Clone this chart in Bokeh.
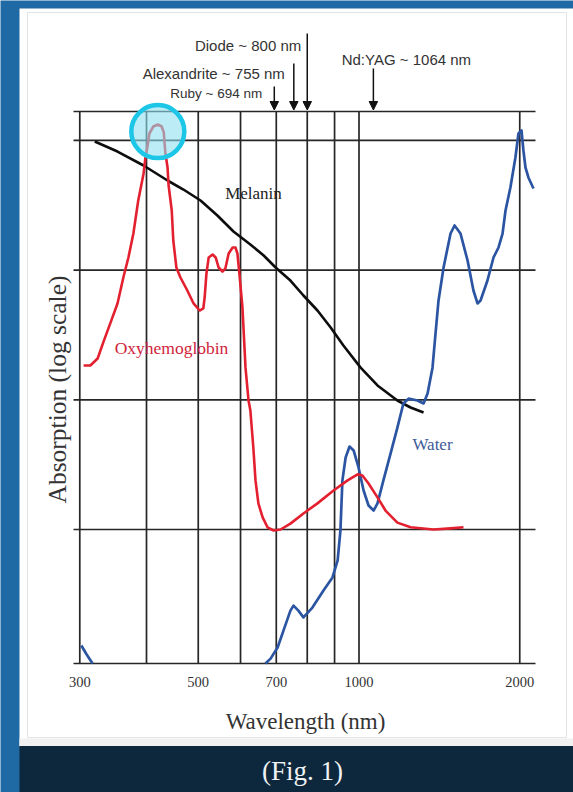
import math
from bokeh.plotting import figure
from bokeh.models import Range1d, LogScale, ColumnDataSource, Arrow, NormalHead
from bokeh.core.properties import value
from bokeh.embed import file_html
from bokeh.resources import INLINE

# ---------------- data (wavelength in nm, absorption in arbitrary log units) ----------------
GRID_NM = [300, 400, 500, 600, 700, 800, 900, 1000, 2000]
TICK_NM = [300, 500, 700, 1000, 2000]
TICK_LABELS = ["300", "500", "700", "1000", "2000"]
DECADES = [10, 100, 1000, 10000]

MELANIN_NM = [320, 353, 395, 438, 469, 505, 543, 582, 626, 663, 698, 744, 787, 836, 885,
              935, 1007, 1083, 1180, 1249, 1321]
MELANIN_ABS = [9806, 8208, 6405, 4907, 4182, 3440, 2636, 1984, 1576, 1296, 1047, 831, 637,
               488, 361, 262, 177, 129, 98.8, 87.2, 79.8]

OXY_NM = [305, 314, 324, 332, 342, 353, 362, 370, 378, 386, 395, 398, 402, 405, 412, 420,
          427, 431, 432, 434, 438, 440, 446, 449, 455, 463, 477, 490, 503, 511, 514, 518,
          523, 532, 539, 546, 555, 562, 570, 580, 587, 592, 597, 605, 613, 621, 626, 634,
          640, 648, 660, 674, 692, 713, 744, 787, 836, 896, 952, 994, 1015, 1042, 1083, 1121,
          1180, 1249, 1379, 1484, 1569]
OXY_ABS = [184, 184, 208, 277, 387, 553, 877, 1251, 1915, 3440, 5556, 7254, 9135, 11303,
           12801, 13263, 12801, 11506, 9982, 7925, 6181, 4489, 2880, 1691, 1047, 877, 696,
           553, 488, 506, 615, 942, 1251, 1319, 1251, 1047, 975, 1029, 1343, 1494, 1494,
           1343, 942, 515, 177, 98.8, 82.7, 42.9, 23.9, 15.9, 12.4, 10.4, 9.82, 10.0, 11.1,
           13.3, 15.9, 20.0, 23.9, 26.6, 26.1, 22.6, 17.7, 14.0, 11.3, 10.4, 10.0, 10.2, 10.4]

NAN = float("nan")
WATER_NM = [302, 309, 317, NAN,
            668, 683, 704, 722, 744, 754, 770, 787, 818, 858, 892, 912, 923, 931, 944, 960,
            977, 998, 1020, 1042, 1065, 1083, 1111, 1146, 1180, 1211, 1238, 1287, 1321, 1344,
            1373, 1391, 1409, 1440, 1484, 1510, 1549, 1597, 1638, 1667, 1689, 1740, 1786, 1825,
            1857, 1881, 1921, 1963, 1989, 2015, 2032, 2050, 2076, 2122]
WATER_ABS = [1.275, 1.087, 0.926, NAN,
             0.926, 1.01, 1.23, 1.66, 2.37, 2.59, 2.37, 2.10, 2.50, 3.39, 4.27, 5.77, 9.82, 23.9,
             35.9, 43.6, 40.7, 30.1, 20.0, 15.3, 14.0, 15.9, 23.9, 38.6, 61.1, 93.7, 102, 98.8,
             93.7, 112, 177, 325, 583, 1047, 1915, 2207, 1915, 1186, 696, 553, 583, 831, 1251,
             1494, 1915, 2880, 4334, 7383, 11303, 11922, 8358, 6181, 5176, 4258]

LASER_NAMES = ["Ruby", "Alexandrite", "Diode", "Nd:YAG"]
LASER_NM = [694, 755, 800, 1064]

HIGHLIGHT_NM = [420]
HIGHLIGHT_ABS = [11700]

# ---------------- layout (page pixel coordinates) ----------------
W, H = 573, 792
X0, X1 = 0, 573
Y0, Y1 = 0, 792
NM_REF, PX_REF, PPD_X = 1000, 358.5, 534.0
ABS_REF, PY_REF, PPD_Y = 10, 529, 129.7


def nm_at(px):
    return NM_REF * 10 ** ((px - PX_REF) / PPD_X)


def abs_at(py):
    return ABS_REF * 10 ** ((PY_REF - py) / PPD_Y)


BLUE = "#1f6aa5"
NAVY = "#0d283d"
GRID = "#262626"
RED = "#e3202f"
WBLUE = "#2b55a2"
SERIF = value("Liberation Serif")
SANS = value("Liberation Sans")

p = figure(width=W, height=H, x_range=Range1d(X0, X1), y_range=Range1d(Y1, Y0),
           output_backend="svg", toolbar_location=None, min_border=0,
           x_axis_location=None, y_axis_location=None, title=None)
p.extra_x_ranges = {"wl": Range1d(nm_at(X0), nm_at(X1))}
p.extra_x_scales = {"wl": LogScale()}
p.extra_y_ranges = {"ab": Range1d(abs_at(Y1), abs_at(Y0))}
p.extra_y_scales = {"ab": LogScale()}
p.grid.visible = False
p.outline_line_color = None
p.background_fill_color = BLUE
p.border_fill_color = BLUE

# card backgrounds
p.quad(left=[19], right=[X1 + 5], top=[8], bottom=[746], fill_color="white", line_color=None)
p.quad(left=[27], right=[566], top=[12], bottom=[737], fill_color="white",
       line_color="#e4e4e4", line_width=1)
p.quad(left=[19], right=[X1 + 5], top=[738], bottom=[745.5], fill_color="#f1f1f1", line_color=None)
p.quad(left=[19], right=[X1 + 5], top=[745.5], bottom=[Y1 + 5], fill_color=NAVY, line_color=None)

# grid / frame
TOP_PX, BOT_PX, LEFT_PX, RIGHT_PX = 111, 663, 73, 535
n = len(GRID_NM)
p.segment(x0=GRID_NM, x1=GRID_NM, y0=[BOT_PX] * n, y1=[TOP_PX] * n,
          x_range_name="wl", line_color=GRID, line_width=1.7)
m = len(DECADES)
p.segment(x0=[LEFT_PX] * m, x1=[RIGHT_PX] * m, y0=DECADES, y1=DECADES,
          y_range_name="ab", line_color=GRID, line_width=1.7)
p.segment(x0=[LEFT_PX] * 2, x1=[RIGHT_PX] * 2, y0=[TOP_PX, BOT_PX], y1=[TOP_PX, BOT_PX],
          line_color=GRID, line_width=1.7)

# curves
p.line(MELANIN_NM, MELANIN_ABS, x_range_name="wl", y_range_name="ab",
       line_color="#0d0d0d", line_width=2.6, line_join="round")
p.line(WATER_NM, WATER_ABS, x_range_name="wl", y_range_name="ab",
       line_color=WBLUE, line_width=2.7, line_join="round")
p.line(OXY_NM, OXY_ABS, x_range_name="wl", y_range_name="ab",
       line_color=RED, line_width=2.6, line_join="round")

# highlight circle
p.scatter(HIGHLIGHT_NM, HIGHLIGHT_ABS, marker="circle", size=53, x_range_name="wl",
          y_range_name="ab", fill_color="#8fdff0", fill_alpha=0.6,
          line_color="#1cc6e6", line_width=4.5)

# laser arrows
arrow_top = [86, 63, 33, 68]
src = ColumnDataSource(dict(x=LASER_NM, y0=arrow_top, y1=[109.5] * len(LASER_NM)))
p.add_layout(Arrow(end=NormalHead(size=8.5, fill_color="#111111", line_color="#111111"),
                   x_start="x", y_start="y0", x_end="x", y_end="y1", source=src,
                   x_range_name="wl", line_color="#111111", line_width=1.5))

laser_style = [  # (x offset, baseline, align, font size)
    (-12, 93, "right", "13.5px"),
    (-9, 73, "right", "15px"),
    (-6, 45, "right", "15px"),
    (33, 59, "center", "15px"),
]
for name, nm, (dx, by, al, fs) in zip(LASER_NAMES, LASER_NM, laser_style):
    p.text(x=[nm], y=[by], text=[f"{name} ~ {nm} nm"], x_range_name="wl", x_offset=dx,
           text_align=al, text_baseline="alphabetic", text_font=SANS,
           text_font_size=fs, text_color="#333333")

# curve labels
p.text(x=[253], y=[192.5], text=["Melanin"], text_align="center", text_baseline="alphabetic",
       text_font=SERIF, text_font_size="17px", text_color="#222222")
p.text(x=[171], y=[347], text=["Oxyhemoglobin"], text_align="center", text_baseline="alphabetic",
       text_font=SERIF, text_font_size="17.5px", text_color="#d0243a")
p.text(x=[432], y=[443.5], text=["Water"], text_align="center", text_baseline="alphabetic",
       text_font=SERIF, text_font_size="17px", text_color="#3d5b9a")

# tick labels and axis titles
p.text(x=TICK_NM, y=[681] * len(TICK_NM), text=TICK_LABELS, x_range_name="wl",
       text_align="center", text_baseline="alphabetic", text_font=SERIF,
       text_font_size="14.5px", text_color="#333333")
p.text(x=[305], y=[721], text=["Wavelength (nm)"], text_align="center",
       text_baseline="alphabetic", text_font=SERIF, text_font_size="23px", text_color="#333333")
p.text(x=[57], y=[389], text=["Absorption (log scale)"], angle=math.pi / 2,
       text_align="center", text_baseline="middle", text_font=SERIF,
       text_font_size="25.5px", text_color="#333333")

# caption
p.text(x=[302], y=[770], text=["(Fig. 1)"], text_align="center", text_baseline="middle",
       text_font=SERIF, text_font_size="27px", text_color="#f0f2f4")

open("out.html", "w").write(file_html(p, INLINE))
